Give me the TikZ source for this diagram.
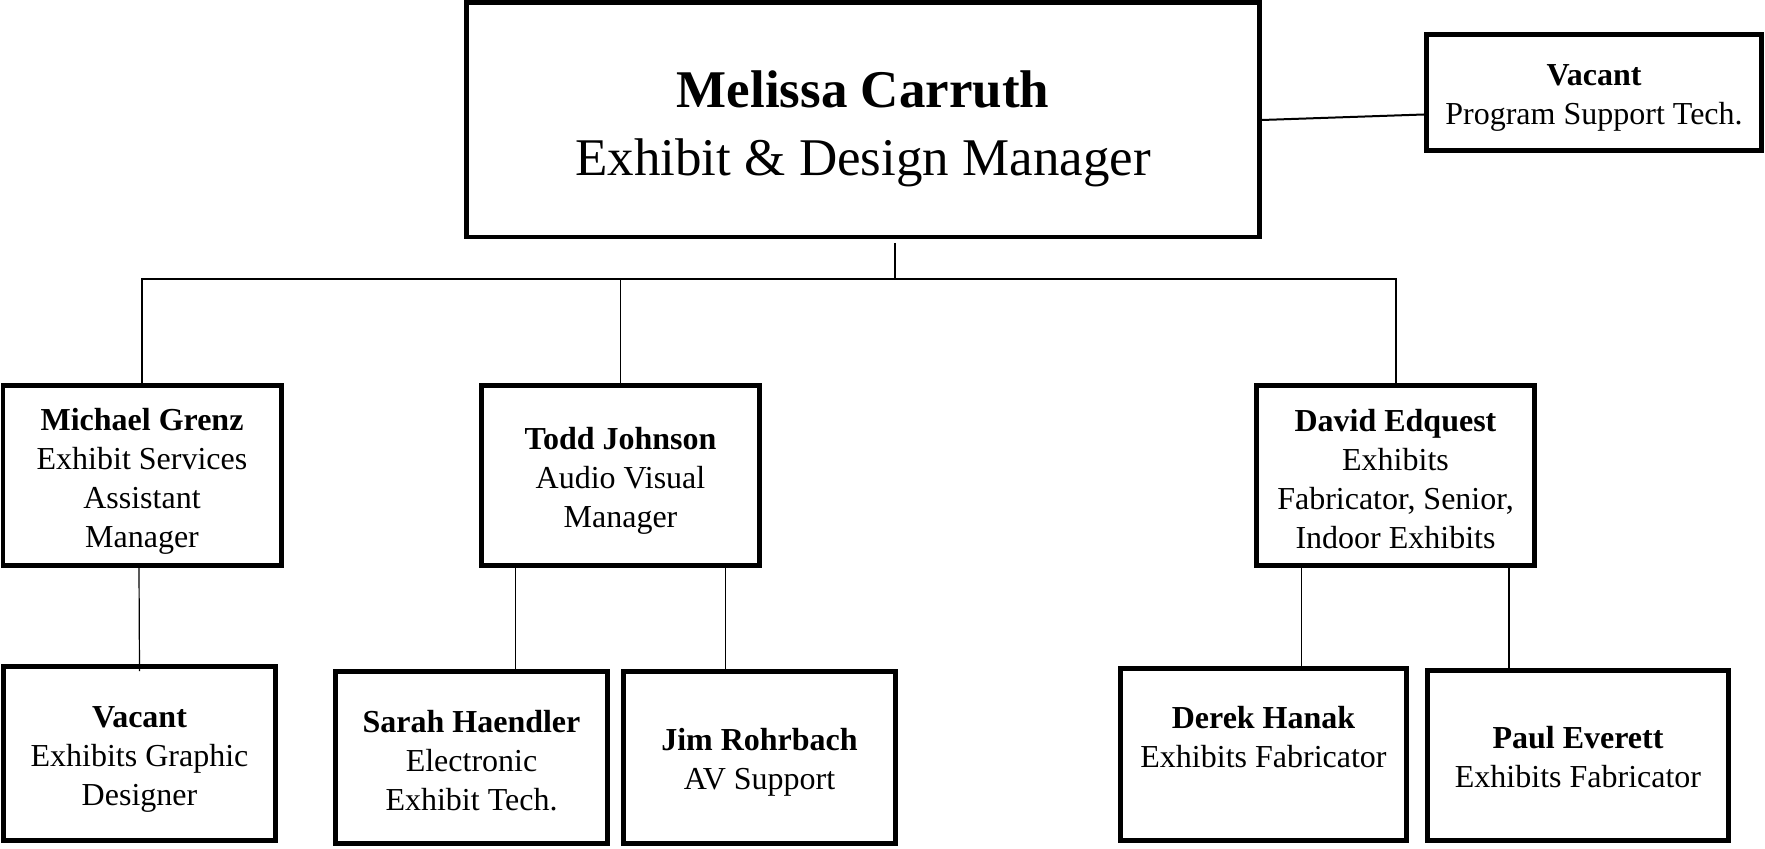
\documentclass[tikz,border=0pt]{standalone}
\usepackage{fontspec}
\setmainfont{Liberation Serif}

\begin{document}
\begin{tikzpicture}[x=0.5pt,y=-0.5pt,
        box/.style={draw,line width=2.3pt,inner sep=0pt,align=center,
            font=\fontsize{16}{19.5}\selectfont},
        link/.style={line width=0.6pt},
        thick link/.style={line width=1pt}]
        \def\nudge#1#2{\raisebox{0pt}[\dimexpr\height+#1\relax]{#2}}
        \useasboundingbox (0,0) rectangle (1765,849);
        % top
        \node[box,minimum width=396.7pt,minimum height=117.2pt,
            font=\fontsize{26.5}{33.8}\selectfont] (boss) at (863,120)
            {\nudge{9pt}{\textbf{Melissa Carruth}}\\Exhibit \& Design Manager};
        \node[box,minimum width=167.7pt,minimum height=58.2pt] (ptech) at (1594,92.5)
            {\nudge{5.6pt}{\textbf{Vacant}}\\Program Support Tech.};
        % managers
        \node[box,minimum width=139.2pt,minimum height=90.2pt] (grenz) at (142,475.5)
            {\nudge{6.2pt}{\textbf{Michael Grenz}}\\Exhibit Services\\Assistant\\Manager};
        \node[box,minimum width=139.2pt,minimum height=90.2pt] (johnson) at (620.5,475.5)
            {\nudge{5.6pt}{\textbf{Todd Johnson}}\\Audio Visual\\Manager};
        \node[box,minimum width=139.2pt,minimum height=90.2pt] (edquest) at (1395.5,475.5)
            {\nudge{3.4pt}{\textbf{David Edquest}}\\Exhibits\\Fabricator, Senior,\\Indoor Exhibits};
        % staff
        \node[box,minimum width=136.2pt,minimum height=87.2pt] (graphic) at (139.5,753.5)
            {\nudge{5.6pt}{\textbf{Vacant}}\\Exhibits Graphic\\Designer};
        \node[box,minimum width=136.2pt,minimum height=86.2pt] (haendler) at (471.5,757.5)
            {\nudge{2.8pt}{\textbf{Sarah Haendler}}\\Electronic\\Exhibit Tech.};
        \node[box,minimum width=136.2pt,minimum height=86.2pt] (rohrbach) at (759.5,757.5)
            {\nudge{4.5pt}{\textbf{Jim Rohrbach}}\\AV Support};
        \node[box,minimum width=143.2pt,minimum height=86.2pt] (hanak) at (1263.5,754.5)
            {\nudge{2.2pt}{\textbf{Derek Hanak}}\\Exhibits Fabricator\\\mbox{}};
        \node[box,minimum width=150.7pt,minimum height=85.2pt] (everett) at (1578,755.5)
            {\nudge{1.7pt}{\textbf{Paul Everett}}\\Exhibits Fabricator};

        \coordinate (drop) at (895,243);
        \coordinate (bus) at (895,279);
        \draw[thick link] (boss.east) -- ([yshift=-11pt]ptech.west);
        \draw[link] (drop) -- (bus);
        \draw[thick link] (grenz.north) |- (bus) -| (edquest.north);
        \draw[link] (johnson.north) -- (johnson.north |- bus);
        \draw[link] ([xshift=-1.5pt]grenz.south) -- ([yshift=-3.5pt]graphic.north);
        \draw[link] ([xshift=18.3pt]johnson.south west) -- ([xshift=18.3pt]johnson.south west |- haendler.north);
        \draw[link] ([xshift=-18.3pt]johnson.south east) -- ([xshift=-18.3pt]johnson.south east |- rohrbach.north);
        \draw[link] ([xshift=23.8pt]edquest.south west) -- ([xshift=23.8pt]edquest.south west |- hanak.north);
        \draw[thick link] ([xshift=-13.9pt]edquest.south east) -- ([xshift=-13.9pt]edquest.south east |- everett.north);
    \end{tikzpicture}
\end{document}
